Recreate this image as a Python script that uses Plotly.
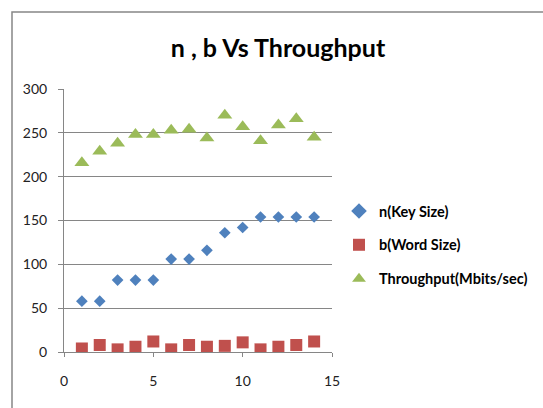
import plotly.graph_objects as go

x_vals = list(range(1, 15))
n_key_size = [58, 58, 82, 82, 82, 106, 106, 116, 136, 142, 154, 154, 154, 154]
b_word_size = [4, 8, 3, 6, 12, 3, 8, 6, 7, 11, 3, 6, 8, 12]
throughput = [216, 229, 238, 248, 248, 253, 254, 244, 270, 257, 241, 259, 266, 245]

series_names = ["n(Key Size)", "b(Word Size)", "Throughput(Mbits/sec)"]
colors = ["#4F81BD", "#C0504D", "#9BBB59"]
symbols = ["diamond", "square", "triangle-up"]
sizes = [9, 12, 13]

FONT = "Lato, 'Open Sans', Arial, sans-serif"

fig = go.Figure()
for i, (name, vals) in enumerate(zip(series_names, [n_key_size, b_word_size, throughput])):
    fig.add_trace(go.Scatter(
        x=x_vals, y=vals, mode="markers", name=name, legendgroup=name,
        marker=dict(symbol=symbols[i], color=colors[i], size=sizes[i], line=dict(width=0)),
    ))

W, H = 543, 408
L, R, T, B = 64, 332, 89, 352

fig.update_layout(
    width=W, height=H,
    margin=dict(l=L, r=W - R, t=T, b=H - B, pad=0, autoexpand=False),
    paper_bgcolor="white", plot_bgcolor="white",
    font=dict(family=FONT, size=14, color="#222222"),
    title=dict(text="<b>n , b Vs Throughput</b>", x=(278) / W, xanchor="center",
               y=1 - 48 / H, yanchor="middle", font=dict(size=25, color="black", family=FONT)),
    showlegend=True,
    legend=dict(x=(339 - L) / (R - L), xanchor="left", y=(B - 195) / (B - T), yanchor="top",
                bgcolor="rgba(0,0,0,0)", font=dict(size=14.5, color="black", weight="bold"),
                tracegroupgap=12, itemsizing="constant", itemwidth=30),
    xaxis=dict(range=[0, 15], dtick=5, tick0=0, showgrid=False, zeroline=False,
               showline=True, linecolor="#868686", linewidth=1,
               ticks="outside", ticklen=4, tickcolor="#868686", tickfont=dict(size=14),
               ticklabelstandoff=12),
    yaxis=dict(range=[0, 300], dtick=50, tick0=0, showgrid=True, gridcolor="#868686", gridwidth=1,
               zeroline=False, showline=True, linecolor="#868686", linewidth=1,
               ticks="outside", ticklen=5, tickcolor="#868686", tickfont=dict(size=14),
               ticklabelstandoff=8),
)

# chart-area border (cropped at right/bottom)
fig.add_shape(type="rect", xref="paper", yref="paper",
              x0=(12 - L) / (R - L), x1=(W + 10 - L) / (R - L),
              y0=(B - (H + 10)) / (B - T), y1=(B - 12) / (B - T),
              line=dict(color="#878787", width=1.5), fillcolor="rgba(0,0,0,0)", layer="below")

fig.write_html("out.html")
